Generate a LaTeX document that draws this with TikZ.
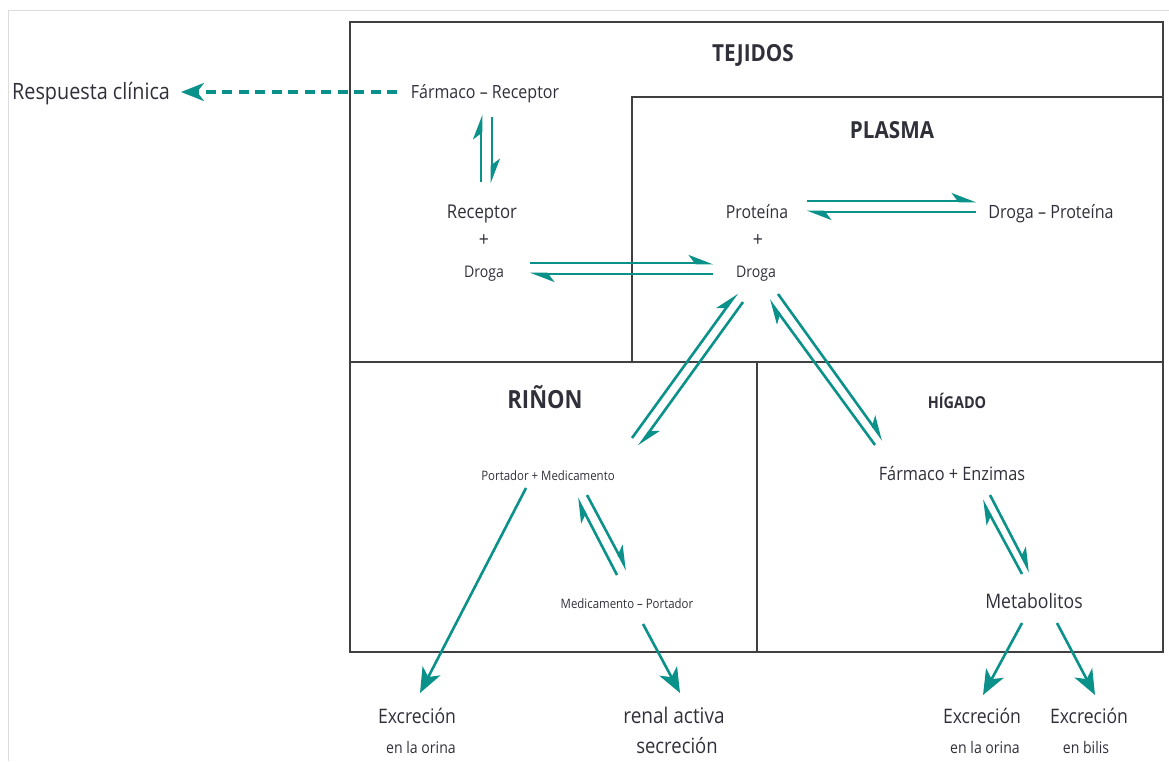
\documentclass[tikz,border=0pt]{standalone}
\usepackage{fontspec}
\setmainfont{Open Sans}[FakeStretch=0.88]
\usetikzlibrary{arrows.meta}
\definecolor{teal1}{RGB}{10,145,137}
\definecolor{boxc}{RGB}{64,64,66}
\definecolor{txt}{RGB}{48,48,58}
\definecolor{frame}{RGB}{220,220,220}
\newcommand\myfs[1]{\fontsize{#1}{#1}\selectfont}
\tikzset{
  lbl/.style={inner sep=0pt, text=txt, anchor=base},
  region/.style={draw=boxc, line width=2.8pt},
  harp/.style={draw=teal1, line width=2.6pt, -{Stealth[harpoon,length=21pt,width=16pt,inset=6pt]}},
  full/.style={draw=teal1, line width=2.6pt, -{Stealth[length=25pt,width=20pt,inset=7pt]}},
  dasharrow/.style={draw=teal1, line width=3.4pt, dash pattern=on 10pt off 6.5pt, -{Stealth[length=23pt,width=18pt,inset=7pt]}}
}
\begin{document}
\begin{tikzpicture}[x=1pt,y=-1pt]
\useasboundingbox (0,0) rectangle (1169,761);
% light frame
\draw[frame, line width=1pt] (8,761) -- (8,10) -- (1169,10);
% regions
\draw[region] (350,22) rectangle (1163,652);
\draw[region] (350,362) -- (1163,362);
\draw[region] (632,362) -- (632,97) -- (1163,97);
\draw[region] (757,362) -- (757,652);
% labels
\node[lbl] (tej) at (753,61) {\myfs{23.5}\bfseries TEJIDOS};
\node[lbl] (plas) at (892,138) {\myfs{23.5}\bfseries PLASMA};
\node[lbl] (rin) at (545,408) {\myfs{25}\bfseries RIÑON};
\node[lbl] (hig) at (957,408) {\myfs{16.4}\bfseries HÍGADO};
\node[lbl, anchor=base west] (resp) at (12,99) {\myfs{22.5}Respuesta clínica};
\node[lbl] (fr) at (485,98) {\myfs{18.2}Fármaco – Receptor};
\node[lbl] (rec) at (482,218) {\myfs{19}Receptor};
\node[lbl] (pl1) at (484,246) {\myfs{20}+};
\node[lbl] (dr1) at (484,277) {\myfs{16}Droga};
\node[lbl] (prot) at (757,218) {\myfs{18}Proteína};
\node[lbl] (pl2) at (758,246) {\myfs{20}+};
\node[lbl] (dr2) at (756,277) {\myfs{16}Droga};
\node[lbl] (dp) at (1051,218) {\myfs{18.3}Droga – Proteína};
\node[lbl] (pm) at (548,480) {\myfs{13}Portador + Medicamento};
\node[lbl] (fe) at (952,480) {\myfs{18.5}Fármaco + Enzimas};
\node[lbl] (mp) at (627,608) {\myfs{13}Medicamento – Portador};
\node[lbl] (met) at (1034,608) {\myfs{20}Metabolitos};
\node[lbl] (ex1) at (417,723) {\myfs{20}Excreción};
\node[lbl] (ex1b) at (421,753) {\myfs{16}en la orina};
\node[lbl] (ra) at (674,723) {\myfs{21.6}renal activa};
\node[lbl] (sec) at (677,753) {\myfs{21}secreción};
\node[lbl] (ex2) at (982,723) {\myfs{20}Excreción};
\node[lbl] (ex2b) at (985,753) {\myfs{16}en la orina};
\node[lbl] (ex3) at (1089,723) {\myfs{20}Excreción};
\node[lbl] (ex3b) at (1086,753) {\myfs{16}en bilis};
% connector end points
\coordinate (frA) at (481,115); \coordinate (recA) at (481,182);
\coordinate (frB) at (492,117); \coordinate (recB) at (492,183);
\coordinate (d1A) at (530,263); \coordinate (d2A) at (713,263);
\coordinate (d1B) at (530,274); \coordinate (d2B) at (713,274);
\coordinate (prA) at (807,201); \coordinate (dpA) at (976,201);
\coordinate (prB) at (807,212); \coordinate (dpB) at (976,212);
\coordinate (pmA) at (632,438); \coordinate (d2C) at (737,293);
\coordinate (pmB) at (639,446); \coordinate (d2D) at (743,302);
\coordinate (feA) at (875,445); \coordinate (d2E) at (769,300);
\coordinate (feB) at (883,440); \coordinate (d2F) at (778,294);
\coordinate (pmC) at (577,498); \coordinate (mpC) at (617,575);
\coordinate (pmD) at (587,495); \coordinate (mpD) at (627,570);
\coordinate (feC) at (982,500); \coordinate (metC) at (1022,574);
\coordinate (feD) at (990,495); \coordinate (metD) at (1030,572);
\coordinate (pmE) at (526,488); \coordinate (ex1t) at (420,693);
\coordinate (mpE) at (643,624); \coordinate (rat) at (680,693);
\coordinate (metE) at (1022,623); \coordinate (ex2t) at (983,695);
\coordinate (metF) at (1057,623); \coordinate (ex3t) at (1095,695);
\coordinate (frL) at (397,92); \coordinate (respR) at (181,92);
% connectors
\draw[dasharrow] (frL) -- (respR);
\draw[harp] (recA) -- (frA);
\draw[harp] (frB) -- (recB);
\draw[harp] (d1A) -- (d2A);
\draw[harp] (d2B) -- (d1B);
\draw[harp] (prA) -- (dpA);
\draw[harp] (dpB) -- (prB);
\draw[harp] (pmA) -- (d2C);
\draw[harp] (d2D) -- (pmB);
\draw[harp] (feA) -- (d2E);
\draw[harp] (d2F) -- (feB);
\draw[harp] (mpC) -- (pmC);
\draw[harp] (pmD) -- (mpD);
\draw[harp] (metC) -- (feC);
\draw[harp] (feD) -- (metD);
\draw[full] (pmE) -- (ex1t);
\draw[full] (mpE) -- (rat);
\draw[full] (metE) -- (ex2t);
\draw[full] (metF) -- (ex3t);
\end{tikzpicture}
\end{document}
